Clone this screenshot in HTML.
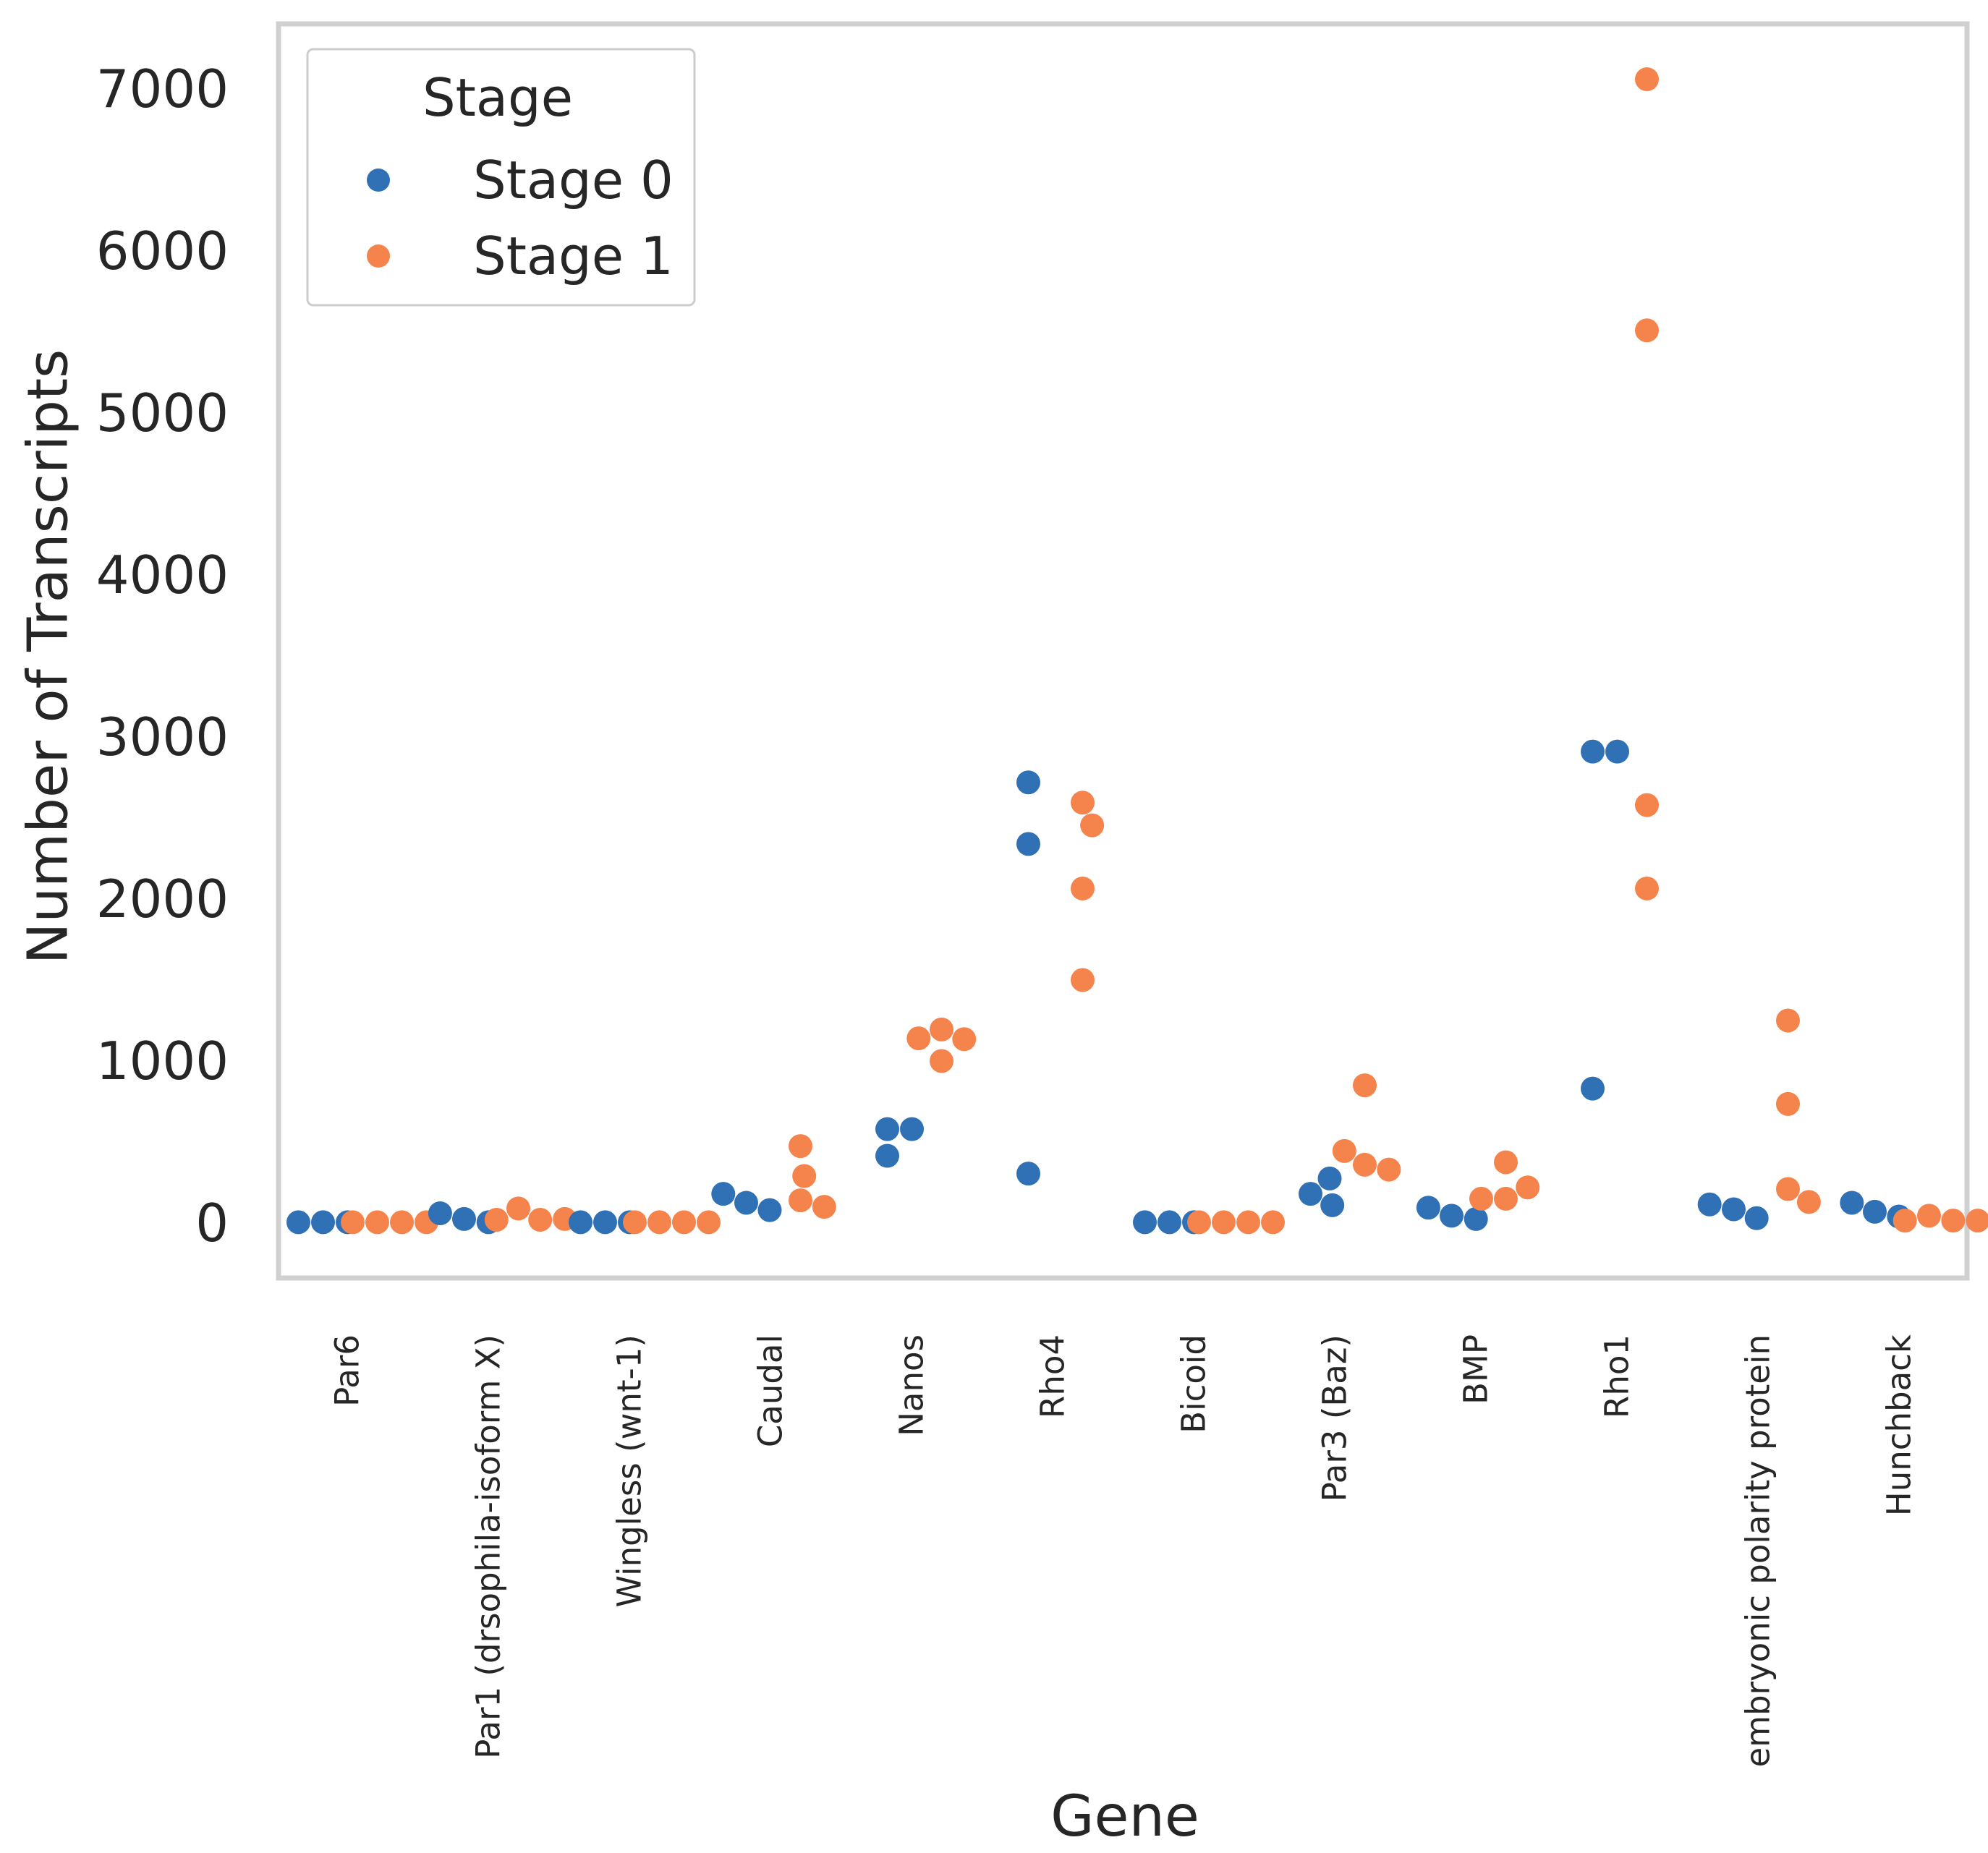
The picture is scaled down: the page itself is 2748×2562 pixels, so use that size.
<!DOCTYPE html>
<html><head><meta charset="utf-8"><style>
html,body{margin:0;padding:0;background:#fff}
svg{display:block}
text{font-family:"DejaVu Sans","Liberation Sans",sans-serif;fill:#262626}
</style></head><body>
<svg id="chart" width="2748" height="2562" viewBox="0 0 2748 2562" xmlns="http://www.w3.org/2000/svg">
<rect x="385" y="33" width="2334" height="1734" fill="none" stroke="#d0d0d0" stroke-width="7"/>
<g id="yticks"></g>
<g id="xticks"></g>
<g id="points"></g>
<text x="67" y="908" font-size="77" text-anchor="middle" dominant-baseline="central" transform="rotate(-90 67 908)">Number of Transcripts</text>
<text x="1555" y="2538" font-size="78" text-anchor="middle">Gene</text>
<g>
<rect x="425" y="68" width="535" height="354" rx="8" fill="#fff" stroke="#cccccc" stroke-width="3"/>
<text x="688" y="160" font-size="72" text-anchor="middle">Stage</text>
<circle cx="523" cy="249" r="16" fill="#3070b4"/>
<text x="654" y="274" font-size="72">Stage 0</text>
<circle cx="523" cy="354" r="16" fill="#f4844c"/>
<text x="654" y="379" font-size="72">Stage 1</text>
</g>
</svg>
<script>
const categories = ["Par6","Par1 (drsophila-isoform X)","Wingless (wnt-1)","Caudal","Nanos","Rho4","Bicoid","Par3 (Baz)","BMP","Rho1","embryonic polarity protein","Hunchback"];
const stage0 = [[5,5,5],[25,5,60],[5,5,5],[125,80,180],[580,580,415],[2720,2340,305],[5,5,5],[180,275,110],[45,25,95],[2910,2910,830],[85,30,115],[70,40,125]];
const stage1 = [[5,5,5,5],[90,20,20,25],[5,5,5,5],[140,100,290,475],[1195,1135,1140,1000],[2595,2455,2065,1500],[5,5,5,5],[360,330,850,445],[150,150,375,220],[7060,5510,2580,2065],[210,130,735,1250],[45,15,15,15]];
const yTicks = [0,1000,2000,3000,4000,5000,6000,7000];

const NS="http://www.w3.org/2000/svg";
const L=382,R=2722,band=(R-L)/categories.length;
const y=v=>1691-v*(1568/7000);
const xc=i=>L+band*(i+0.5);

const yg=document.getElementById('yticks');
yTicks.forEach(t=>{
  const e=document.createElementNS(NS,'text');
  e.setAttribute('x',316);e.setAttribute('y',y(t));
  e.setAttribute('font-size','72');e.setAttribute('text-anchor','end');e.setAttribute('dominant-baseline','central');
  e.textContent=t;
  
  
  yg.appendChild(e);
});
const xg=document.getElementById('xticks');
categories.forEach((c,i)=>{
  const e=document.createElementNS(NS,'text');
  const x=xc(i)+16,yy=1845;
  e.setAttribute('x',x);e.setAttribute('y',yy);
  e.setAttribute('font-size','45');e.setAttribute('text-anchor','end');
  e.setAttribute('transform','rotate(-90 '+x+' '+yy+')');
  e.textContent=c;
  
  
  xg.appendChild(e);
});

const pg=document.getElementById('points');
const D=34;
function place(placed,py,base){
  const cands=[base];
  placed.forEach(p=>{const dy=p.y-py;if(Math.abs(dy)<D){const dx=Math.sqrt(D*D-dy*dy)+0.01;cands.push(p.x+dx,p.x-dx);}});
  cands.sort((a,b)=>Math.abs(a-base)-Math.abs(b-base));
  for(const cx of cands){
    if(placed.every(p=>(p.x-cx)**2+(p.y-py)**2>=D*D-0.1))return cx;
  }
  return base;
}
categories.forEach((c,i)=>{
  [[stage0[i],'#3070b4',-33,'stage0'],[stage1[i],'#f4844c',42,'stage1']].forEach(([vals,col,off,nm])=>{
    const placed=[];
    vals.forEach(v=>{
      const py=y(v);
      const px=place(placed,py,xc(i)+off);
      placed.push({x:px,y:py});
      const e=document.createElementNS(NS,'circle');
      e.setAttribute('cx',px);e.setAttribute('cy',py);e.setAttribute('r',16.5);e.setAttribute('fill',col);
      
      
      pg.appendChild(e);
    });
  });
});
</script>
</body></html>
